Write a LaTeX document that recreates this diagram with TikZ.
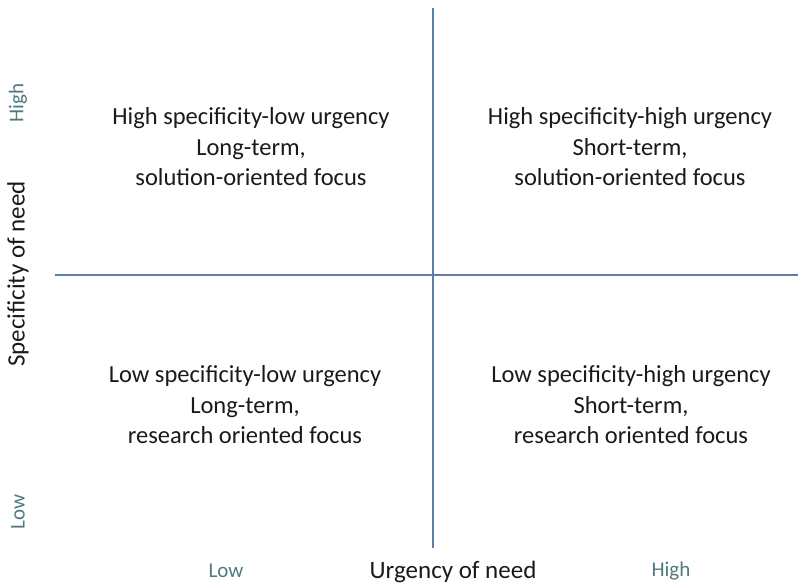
\documentclass[tikz,border=0pt]{standalone}
\usepackage{fontspec}
\setmainfont{Carlito}
\usepackage{tikz}
\usetikzlibrary{positioning,calc}
\definecolor{AxisBlue}{HTML}{5B7FA6}
\definecolor{TickTeal}{HTML}{4E7B80}
\definecolor{TextDark}{HTML}{1A1A1A}
\tikzset{
  quad/.style={font=\fontsize{24.5}{30.5}\selectfont,text=TextDark,align=center},
  axlabel/.style={font=\fontsize{25}{28}\selectfont,text=TextDark},
  endlabel/.style={font=\fontsize{21}{24}\selectfont,text=TickTeal},
  axisline/.style={draw=AxisBlue,line width=2.4pt}}
\begin{document}
\begin{tikzpicture}[x=1pt,y=-1pt]
  \useasboundingbox (0,0) rectangle (798,587);
  % the two dividing axes
  \coordinate (vtop) at (433,8);
  \coordinate (vbot) at (433,548);
  \coordinate (hleft) at (55,275);
  \coordinate (hright) at (798,275);
  \draw[axisline] (vtop) -- (vbot);
  \draw[axisline] (hleft) -- (hright);
  % quadrants
  \node[quad] (hilo) at (251,147) {High specificity-low urgency\\Long-term,\\solution-oriented focus};
  \node[quad] (hihi) at (630,147) {High specificity-high urgency\\Short-term,\\solution-oriented focus};
  \node[quad] (lolo) at (245,405) {Low specificity-low urgency\\Long-term,\\research oriented focus};
  \node[quad] (lohi) at (631,405) {Low specificity-high urgency\\Short-term,\\research oriented focus};
  % axis titles and ends
  \node[axlabel,rotate=90] (spec) at (18,274) {Specificity of need};
  \node[endlabel,rotate=90] (spechigh) at (18,103) {High};
  \node[endlabel,rotate=90] (speclow) at (18,512) {Low};
  \node[axlabel] (urg) at (453,572) {Urgency of need};
  \node[endlabel] (urglow) at (226,571) {Low};
  \node[endlabel] (urghigh) at (671,571) {High};
\end{tikzpicture}
\end{document}
